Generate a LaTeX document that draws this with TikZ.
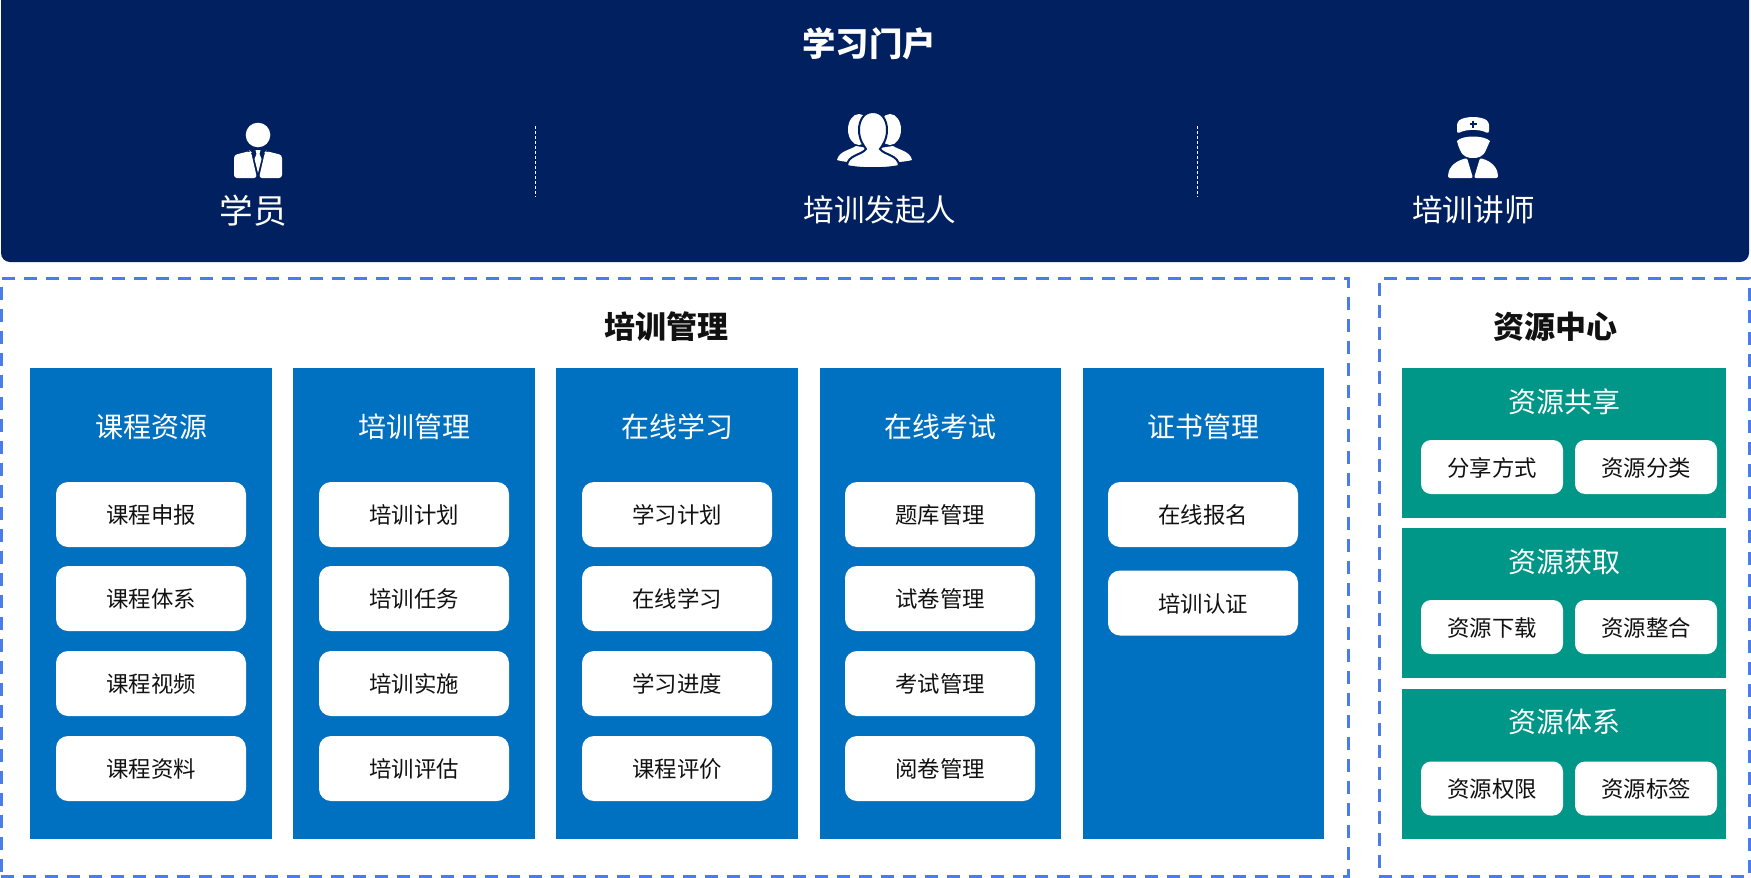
\documentclass[tikz,border=0pt]{standalone}
\usepackage{fontspec}
\setmainfont{Noto Sans CJK SC}
\usetikzlibrary{positioning}
\definecolor{navy}{HTML}{002060}
\definecolor{modblue}{HTML}{0070C0}
\definecolor{resgreen}{HTML}{009688}
\definecolor{dashblue}{HTML}{4A7CEC}
\definecolor{inktext}{HTML}{111111}
\tikzset{
  frame/.style={draw=dashblue,line width=3pt,dash pattern=on 13pt off 9pt,inner sep=0pt},
  modcol/.style={fill=modblue,minimum width=241.5pt,minimum height=471pt,inner sep=0pt},
  respanel/.style={fill=resgreen,minimum width=324pt,inner sep=0pt},
  bigcard/.style={fill=white,rounded corners=12pt,minimum width=190pt,minimum height=65pt,inner sep=0pt,text=inktext,text height=21pt,text depth=2.4pt,font=\fontsize{22.4pt}{26pt}\selectfont},
  smallcard/.style={fill=white,rounded corners=10pt,minimum width=142pt,minimum height=54pt,inner sep=0pt,text=inktext,text height=21pt,text depth=2.4pt,font=\fontsize{22.4pt}{26pt}\selectfont},
  colhead/.style={text=white,font=\fontsize{28pt}{32pt}\selectfont},
  sectitle/.style={text=inktext,font=\bfseries\fontsize{31pt}{36pt}\selectfont},
  rolename/.style={text=white,font=\fontsize{30.6pt}{34pt}\selectfont},
  divider/.style={draw=white,line width=0.9pt,dash pattern=on 3pt off 2pt}
}
\begin{document}
\begin{tikzpicture}[x=1pt,y=-1pt]
  \useasboundingbox (0,0) rectangle (1751,878);
  \fill[navy,rounded corners=9pt] (1,-20) rectangle (1749,262);
  \node[text=white,font=\bfseries\fontsize{33.4pt}{37pt}\selectfont] (portal) at (869,43.5) {学习门户};
  \draw[divider] (535,126) -- (535,197);
  \draw[divider] (1197,126) -- (1197,197);

  % student
  \fill[white] (258,135) circle (12.3);
  \fill[white,rounded corners=3pt] (234,178) -- (234,155) -- (250,151) -- (251,152) -- (257,178) -- cycle;
  \fill[white,rounded corners=3pt] (282,178) -- (282,155) -- (266,151) -- (265,152) -- (259,178) -- cycle;
  \fill[white] (255.5,150) -- (260.5,150) -- (259.5,154) -- (261.5,159) -- (258,173) -- (254.5,159) -- (256.5,154) -- cycle;
  \node[rolename,font=\fontsize{33.6pt}{37pt}\selectfont] (student) at (253,210.5) {学员};

  % initiator
  \fill[white] (859,129.5) ellipse (11 and 15.5);
  \fill[white] (890,129.5) ellipse (11 and 15.5);
  \fill[white] (837,160) .. controls (839,151) and (850,150) .. (856,146) -- (868,148) -- (868,162) .. controls (855,163) and (843,162) .. (837,160) -- cycle;
  \fill[white] (912,160) .. controls (910,151) and (899,150) .. (893,146) -- (880,148) -- (880,162) .. controls (890,163) and (905,162) .. (912,160) -- cycle;
  \draw[navy,fill=white,line width=2pt] (873,112) .. controls (864,112) and (859,120) .. (859,130) .. controls (859,140) and (864,146) .. (866,149) .. controls (862,155) and (847,155) .. (847,166) .. controls (860,169) and (886,169) .. (899,166) .. controls (899,155) and (884,155) .. (880,149) .. controls (882,146) and (887,140) .. (887,130) .. controls (887,120) and (882,112) .. (873,112) -- cycle;
  \node[rolename] (initiator) at (880,209.5) {培训发起人};

  % lecturer
  \fill[white,rounded corners=3pt] (1457,134) -- (1457,122) .. controls (1465,116) and (1481,116) .. (1489,122) -- (1489,134) .. controls (1480,129) and (1466,129) .. (1457,134) -- cycle;
  \draw[navy,line width=1.6pt] (1473,120.5) -- (1473,127.5) (1469.5,124) -- (1476.5,124);
  \fill[white] (1457,141) .. controls (1462,135) and (1484,135) .. (1490,141) .. controls (1488,145) and (1487,148) .. (1486,150) .. controls (1483,157) and (1478,158) .. (1473,158) .. controls (1468,158) and (1463,157) .. (1460,150) .. controls (1459,148) and (1458,145) .. (1457,141) -- cycle;
  \fill[white,rounded corners=2pt] (1448,178) .. controls (1448,170) and (1452,162) .. (1467,158) -- (1473,178) -- cycle;
  \fill[white,rounded corners=2pt] (1498,178) .. controls (1498,170) and (1494,162) .. (1480,158) -- (1474,178) -- cycle;
  \node[rolename] (lecturer) at (1473.5,209.5) {培训讲师};

  \node[frame,minimum width=1347pt,minimum height=598pt] (trainframe) at (674.5,577.5) {};
  \node[frame,minimum width=370pt,minimum height=598pt] (resframe) at (1564,577.5) {};
  \node[sectitle] (traintitle) at (666,326.5) {培训管理};
  \node[sectitle] (restitle) at (1555,326.5) {资源中心};

  % modules
  \node[modcol] (colcourse) at (151,603.5) {};
  \node[modcol] (colplan) at (414,603.5) {};
  \node[modcol] (colstudy) at (677,603.5) {};
  \node[modcol] (colexam) at (940.5,603.5) {};
  \node[modcol] (colcert) at (1203.5,603.5) {};
  \node[colhead] (headcourse) at (151,426.5) {课程资源};
  \node[colhead] (headplan) at (414,426.5) {培训管理};
  \node[colhead] (headstudy) at (677,426.5) {在线学习};
  \node[colhead] (headexam) at (940.5,426.5) {在线考试};
  \node[colhead] (headcert) at (1203.5,426.5) {证书管理};

  \node[bigcard] (course1) at (151,514.5) {课程申报};
  \node[bigcard] (course2) at (151,598.5) {课程体系};
  \node[bigcard] (course3) at (151,683.5) {课程视频};
  \node[bigcard] (course4) at (151,768.5) {课程资料};
  \node[bigcard] (plan1) at (414,514.5) {培训计划};
  \node[bigcard] (plan2) at (414,598.5) {培训任务};
  \node[bigcard] (plan3) at (414,683.5) {培训实施};
  \node[bigcard] (plan4) at (414,768.5) {培训评估};
  \node[bigcard] (study1) at (677,514.5) {学习计划};
  \node[bigcard] (study2) at (677,598.5) {在线学习};
  \node[bigcard] (study3) at (677,683.5) {学习进度};
  \node[bigcard] (study4) at (677,768.5) {课程评价};
  \node[bigcard] (exam1) at (940,514.5) {题库管理};
  \node[bigcard] (exam2) at (940,598.5) {试卷管理};
  \node[bigcard] (exam3) at (940,683.5) {考试管理};
  \node[bigcard] (exam4) at (940,768.5) {阅卷管理};
  \node[bigcard] (cert1) at (1203,514.5) {在线报名};
  \node[bigcard] (cert2) at (1203,603) {培训认证};

  % resources
  \node[respanel,minimum height=150pt] (share) at (1564,443) {};
  \node[respanel,minimum height=150pt] (fetch) at (1564,603) {};
  \node[respanel,minimum height=150pt] (system) at (1564,764) {};
  \node[colhead] (sharehead) at (1564,401.5) {资源共享};
  \node[colhead] (fetchhead) at (1564,562) {资源获取};
  \node[colhead] (systemhead) at (1564,721.5) {资源体系};
  \node[smallcard] (share1) at (1492,467) {分享方式};
  \node[smallcard] (share2) at (1646,467) {资源分类};
  \node[smallcard] (fetch1) at (1492,627) {资源下载};
  \node[smallcard] (fetch2) at (1646,627) {资源整合};
  \node[smallcard] (system1) at (1492,788.5) {资源权限};
  \node[smallcard] (system2) at (1646,788.5) {资源标签};
\end{tikzpicture}
\end{document}
